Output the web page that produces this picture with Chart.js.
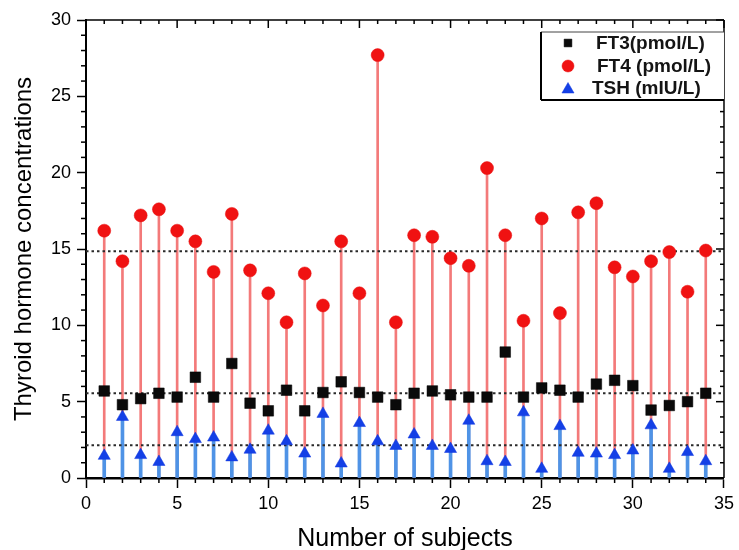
<!DOCTYPE html>
<html>
<head>
<meta charset="utf-8">
<script src="https://cdn.jsdelivr.net/npm/chart.js@4.4.1/dist/chart.umd.min.js"></script>
<style>
  html, body { margin: 0; padding: 0; background: #fff; }
  #wrap { width: 739px; height: 550px; }
</style>
</head>
<body>
<div id="wrap"><canvas id="c" width="739" height="550"></canvas></div>
<script>
// ---- data ----
const subjects = [1,2,3,4,5,6,7,8,9,10,11,12,13,14,15,16,17,18,19,20,21,22,23,24,25,26,27,28,29,30,31,32,33,34];
const ft3 = [5.7,4.8,5.2,5.55,5.3,6.6,5.3,7.5,4.9,4.4,5.75,4.4,5.6,6.3,5.6,5.3,4.8,5.55,5.7,5.45,5.3,5.3,8.25,5.3,5.9,5.75,5.3,6.15,6.4,6.05,4.45,4.75,5.0,5.55];
const ft4 = [16.2,14.2,17.2,17.6,16.2,15.5,13.5,17.3,13.6,12.1,10.2,13.4,11.3,15.5,12.1,27.7,10.2,15.9,15.8,14.4,13.9,20.3,15.9,10.3,17.0,10.8,17.4,18.0,13.8,13.2,14.2,14.8,12.2,14.9];
const tsh = [1.45,4.0,1.5,1.05,3.0,2.55,2.65,1.35,1.85,3.1,2.4,1.6,4.2,0.95,3.6,2.4,2.1,2.85,2.1,1.9,3.75,1.1,1.05,4.3,0.6,3.4,1.65,1.6,1.5,1.8,3.45,0.6,1.7,1.1];
const refLines = [14.85, 5.55, 2.15];
const seriesNames = ['FT3(pmol/L)', 'FT4 (pmol/L)', 'TSH (mIU/L)'];
const xRange = [0, 35];
const yRange = [0, 30];
const xTitle = 'Number of subjects';
const yTitle = 'Thyroid hormone concentrations';

const FONT = "'Liberation Sans', Arial, sans-serif";
const pts = (vals) => subjects.map((s, i) => ({x: s, y: vals[i]}));
const stems = (vals) => subjects.map((s, i) => ({x: s, y: [0, vals[i]]}));

const markerStyles = [
  {pointStyle: 'rect', radius: 7.5, backgroundColor: '#0a0a0a', borderColor: '#000', borderWidth: 0.5},
  {pointStyle: 'circle', radius: 6.5, backgroundColor: '#f01212', borderColor: '#e80f0f', borderWidth: 0.5},
  {pointStyle: 'triangle', radius: 7, backgroundColor: '#1440e6', borderColor: '#1036e0', borderWidth: 0.5}
];

const datasets = [
  {type: 'bar', label: 'ft4stem', data: stems(ft4), backgroundColor: '#f37a7a', barThickness: 2, grouped: false, order: 6, borderWidth: 0},
  {type: 'bar', label: 'tshstem', data: stems(tsh), backgroundColor: '#4f93e6', barThickness: 3, grouped: false, order: 5, borderWidth: 0}
];
refLines.forEach((v) => datasets.push({
  type: 'line', label: 'ref', data: [{x: xRange[0], y: v}, {x: xRange[1], y: v}],
  borderColor: '#2a2a2a', borderWidth: 2, borderDash: [2.5, 3], pointRadius: 0, order: 4
}));
[ft3, ft4, tsh].forEach((vals, k) => {
  const m = markerStyles[k];
  datasets.push({
    type: 'scatter', label: seriesNames[k], data: pts(vals), showLine: false,
    pointStyle: m.pointStyle, pointRadius: m.radius, backgroundColor: m.backgroundColor,
    borderColor: m.borderColor, borderWidth: m.borderWidth, order: [1, 2, 3][k]
  });
});

const framePlugin = {
  id: 'frameAndLegend',
  afterDraw(chart) {
    const {ctx, chartArea: a, scales: {x, y}} = chart;
    ctx.save();
    ctx.strokeStyle = '#000';
    ctx.lineWidth = 1.5;
    const line = (x1, y1, x2, y2) => { ctx.beginPath(); ctx.moveTo(x1, y1); ctx.lineTo(x2, y2); ctx.stroke(); };
    // top and right frame
    line(a.left, a.top, a.right, a.top);
    line(a.right, a.top, a.right, a.bottom);
    for (let v = xRange[0]; v <= xRange[1]; v++) {
      const px = x.getPixelForValue(v);
      const major = v % 5 === 0;
      if (!major) line(px, a.bottom, px, a.bottom + 5);
      line(px, a.top, px, a.top + (major ? 8 : 4));
    }
    for (let v = yRange[0]; v <= yRange[1]; v++) {
      const py = y.getPixelForValue(v);
      const major = v % 5 === 0;
      if (!major) line(a.left - 5, py, a.left, py);
      line(a.right, py, a.right - (major ? 8 : 4), py);
    }
    // legend
    const bx = 541, by = 32, bw = a.right - 541, bh = 68;
    ctx.fillStyle = '#fff';
    ctx.fillRect(bx, by, bw, bh);
    ctx.lineWidth = 1;
    ctx.strokeStyle = '#444';
    line(bx, by, bx + bw, by);
    ctx.lineWidth = 2;
    ctx.strokeStyle = '#000';
    line(bx, by, bx, by + bh);
    line(bx, by + bh, bx + bw, by + bh);
    const rows = [43, 66, 88];
    const textX = [596, 597, 592];
    const legendRadius = [5.5, 6, 7];
    ctx.font = 'bold 19px ' + FONT;
    ctx.textBaseline = 'middle';
    ctx.textAlign = 'left';
    seriesNames.forEach((name, k) => {
      const m = markerStyles[k];
      ctx.fillStyle = m.backgroundColor;
      ctx.strokeStyle = m.borderColor;
      ctx.lineWidth = m.borderWidth;
      Chart.helpers.drawPoint(ctx, {pointStyle: m.pointStyle, radius: legendRadius[k], rotation: 0, borderWidth: m.borderWidth}, 568, rows[k] + (k === 2 ? 1.5 : 0));
      ctx.fillStyle = '#141414';
      ctx.fillText(name, textX[k], rows[k] + 1);
    });
    ctx.restore();
  }
};

new Chart(document.getElementById('c'), {
  type: 'scatter',
  data: {datasets},
  plugins: [framePlugin],
  options: {
    responsive: false,
    animation: false,
    devicePixelRatio: 1,
    events: [],
    layout: {padding: {left: 0, right: 15, top: 20, bottom: 0}},
    plugins: {legend: {display: false}, tooltip: {enabled: false}},
    scales: {
      x: {
        type: 'linear', min: xRange[0], max: xRange[1], offset: false,
        afterFit: (s) => { s.height = 72; },
        ticks: {stepSize: 5, padding: 5, color: '#000', font: {family: FONT, size: 18}, maxRotation: 0},
        grid: {drawOnChartArea: false, drawTicks: true, tickLength: 10, tickColor: '#000', tickWidth: 1.5, offset: false},
        border: {display: true, color: '#000', width: 2.5},
        title: {display: true, text: xTitle, color: '#000', font: {family: FONT, size: 25, lineHeight: 0.9}, padding: {top: 0, bottom: 0}}
      },
      y: {
        type: 'linear', min: yRange[0], max: yRange[1],
        afterFit: (s) => { s.width = 86; },
        ticks: {stepSize: 5, padding: 6, color: '#000', font: {family: FONT, size: 18}},
        grid: {drawOnChartArea: false, drawTicks: true, tickLength: 9, tickColor: '#000', tickWidth: 1.5},
        border: {display: true, color: '#000', width: 2},
        title: {display: true, text: yTitle, color: '#000', font: {family: FONT, size: 24, lineHeight: 0.9}, padding: {top: 14, bottom: 0}}
      }
    }
  }
});
</script>
</body>
</html>
